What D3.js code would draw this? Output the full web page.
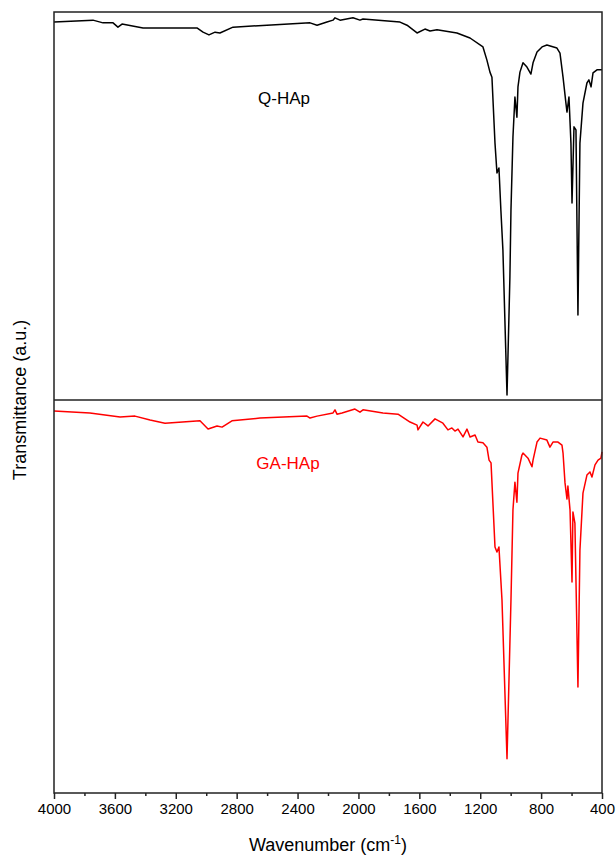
<!DOCTYPE html>
<html lang="en">
<head>
    <meta charset="utf-8">
    <title>FTIR</title>
    <script src="https://d3js.org/d3.v7.min.js" charset="utf-8"></script>
    <style>
        body { margin: 0; background: #fff; }
        text { font-family: "Liberation Sans", Arial, sans-serif; }
    </style>
</head>
<body>
<script>

// Q-HAp spectrum (wavenumber, transmittance a.u.)
var qWave = [4000, 3744, 3678, 3612, 3580, 3553, 3415, 3061, 3021, 2982, 2942, 2910, 2824, 2601, 2318, 2272, 2207, 2167, 2154, 2121, 2036, 1990, 1970, 1727, 1681, 1615, 1563, 1530, 1484, 1353, 1267, 1182, 1156, 1136, 1123, 1103, 1090, 1077, 1064, 1051, 1024, 1005, 998, 985, 972, 959, 952, 939, 919, 893, 867, 853, 827, 794, 762, 696, 676, 656, 637, 630, 617, 604, 597, 584, 571, 558, 545, 525, 499, 486, 472, 459, 433, 400]
var qTrans = [97.4, 97.9, 97.2, 97.2, 96.1, 96.9, 95.9, 95.9, 94.8, 94.1, 94.8, 94.6, 96.1, 96.6, 97.2, 96.6, 97.4, 97.9, 98.5, 97.9, 98.5, 97.9, 98.2, 97.4, 96.6, 94.6, 95.6, 95.1, 95.4, 94.6, 93.3, 91.0, 87.6, 84.5, 83.2, 66.2, 58.5, 59.8, 48.7, 38.7, 1.3, 31.7, 49.0, 67.8, 78.1, 72.9, 80.7, 84.5, 86.9, 85.8, 84.0, 86.9, 89.7, 91.0, 91.5, 90.7, 89.4, 83.2, 76.5, 74.2, 78.1, 66.2, 50.8, 70.4, 69.6, 21.9, 66.2, 76.5, 81.7, 82.5, 80.7, 84.3, 85.1, 85.1]

// GA-HAp spectrum
var gaWave = [4000, 3764, 3566, 3468, 3369, 3271, 3041, 2988, 2929, 2896, 2831, 2647, 2338, 2318, 2272, 2167, 2154, 2141, 2108, 2023, 1990, 1970, 1839, 1740, 1661, 1615, 1609, 1576, 1543, 1497, 1445, 1412, 1386, 1366, 1346, 1313, 1287, 1267, 1234, 1215, 1182, 1156, 1142, 1129, 1103, 1090, 1077, 1057, 1024, 998, 985, 972, 959, 952, 926, 919, 886, 860, 853, 827, 807, 762, 742, 722, 689, 663, 656, 643, 630, 624, 610, 597, 591, 578, 558, 545, 525, 499, 479, 466, 446, 426, 407, 400]
var gaTrans = [97.2, 96.7, 95.7, 95.9, 94.9, 94.1, 94.7, 92.6, 93.4, 93.1, 94.7, 95.4, 95.9, 95.4, 95.9, 96.7, 97.5, 96.4, 96.7, 97.7, 96.9, 97.5, 96.7, 96.4, 94.4, 93.6, 92.4, 94.4, 93.4, 95.2, 94.1, 92.4, 92.9, 92.1, 92.6, 90.6, 92.6, 90.6, 91.1, 89.3, 89.1, 88.0, 84.7, 84.0, 62.6, 61.3, 62.6, 49.1, 8.7, 49.1, 72.0, 79.1, 74.0, 81.4, 86.0, 86.5, 85.2, 83.0, 84.7, 89.3, 90.3, 89.8, 88.0, 89.3, 89.3, 88.5, 86.5, 78.9, 74.8, 78.1, 72.0, 53.7, 71.5, 68.7, 27.0, 61.8, 76.3, 80.9, 81.7, 80.4, 83.5, 84.7, 85.2, 86.8]

var tickValues = [4000, 3600, 3200, 2800, 2400, 2000, 1600, 1200, 800, 400]
var minorTicks = [3800, 3400, 3000, 2600, 2200, 1800, 1400, 1000, 600]

var w = 616, h = 855
var plotLeft = 54, plotRight = 602, plotTop = 12, plotMid = 400, plotBottom = 793

var svg = d3.select("body").append("svg").attr("width", w).attr("height", h)

var xScale = d3.scaleLinear().domain([4000, 400]).range([plotLeft, plotRight])
var yTop = d3.scaleLinear().domain([0, 100]).range([plotMid, plotTop])
var yBot = d3.scaleLinear().domain([0, 100]).range([plotBottom, plotMid])

function drawSpectrum(wave, trans, yScale, color) {
    var pts = wave.map(function(d, i) { return [d, trans[i]] })
    var line = d3.line()
        .x(function(d) { return xScale(d[0]) })
        .y(function(d) { return yScale(d[1]) })
    svg.append("path").datum(pts).attr("d", line)
        .attr("fill", "none").attr("stroke", color).attr("stroke-width", 1.5)
        .attr("stroke-linejoin", "round")
}

drawSpectrum(qWave, qTrans, yTop, "#000")
drawSpectrum(gaWave, gaTrans, yBot, "#ff0000")

// frame + divider
svg.append("rect").attr("x", plotLeft).attr("y", plotTop)
    .attr("width", plotRight - plotLeft).attr("height", plotBottom - plotTop)
    .attr("fill", "none").attr("stroke", "#222").attr("stroke-width", 1.5)
svg.append("line").attr("x1", plotLeft).attr("x2", plotRight).attr("y1", plotMid).attr("y2", plotMid)
    .attr("stroke", "#222").attr("stroke-width", 1.5)

// bottom axis
var xAxis = d3.axisBottom(xScale).tickValues(tickValues).tickSize(6).tickPadding(4).tickFormat(d3.format("d"))
var gx = svg.append("g").attr("transform", "translate(0," + plotBottom + ")").call(xAxis)
gx.select(".domain").remove()
gx.selectAll("line").attr("stroke", "#222").attr("stroke-width", 1.5)
gx.selectAll("text").attr("font-size", 15).attr("fill", "#000")
    .style("font-family", "'Liberation Sans', Arial, sans-serif")

var gm = svg.append("g").attr("transform", "translate(0," + plotBottom + ")")
    .call(d3.axisBottom(xScale).tickValues(minorTicks).tickSize(3).tickFormat(""))
gm.select(".domain").remove()
gm.selectAll("line").attr("stroke", "#222").attr("stroke-width", 1.5)

// axis titles
var xt = svg.append("text").attr("x", 328).attr("y", 851).attr("text-anchor", "middle")
    .attr("font-size", 18).attr("fill", "#000")
xt.append("tspan").text("Wavenumber (cm")
xt.append("tspan").attr("dy", -7).attr("font-size", 12).text("-1")
xt.append("tspan").attr("dy", 7).text(")")

svg.append("text").attr("transform", "translate(26,400) rotate(-90)")
    .attr("text-anchor", "middle").attr("font-size", 18).attr("fill", "#000")
    .text("Transmittance (a.u.)")

// sample labels
svg.append("text").attr("x", 284).attr("y", 104).attr("text-anchor", "middle")
    .attr("font-size", 17).attr("fill", "#000").text("Q-HAp")
svg.append("text").attr("x", 288).attr("y", 469).attr("text-anchor", "middle")
    .attr("font-size", 17).attr("fill", "#ff0000").text("GA-HAp")

</script>
</body>
</html>
